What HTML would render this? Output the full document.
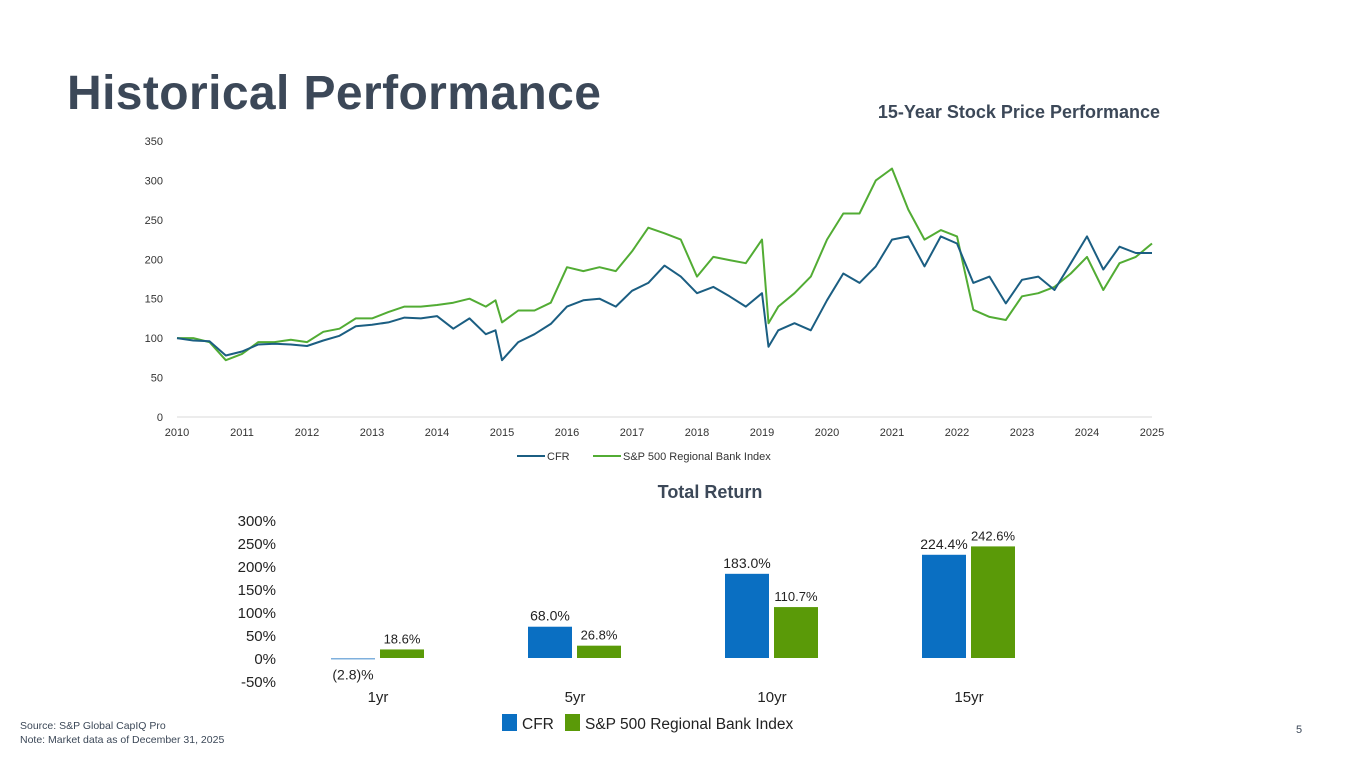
<!DOCTYPE html>
<html><head><meta charset="utf-8">
<style>
body{margin:0;width:1365px;height:768px;background:#fff;overflow:hidden;font-family:"Liberation Sans",sans-serif;position:relative}
.abs{position:absolute}
</style></head><body>
<div class="abs" style="left:67px;top:66px;font-size:48px;font-weight:bold;color:#3c4858;letter-spacing:0.4px">Historical Performance</div>
<div class="abs" style="left:840px;top:102px;width:320px;text-align:right;font-size:18px;font-weight:bold;color:#3c4858">15-Year Stock Price Performance</div>
<svg id="line" class="abs" style="left:0;top:0" width="1365" height="480"></svg>
<div class="abs" style="left:560px;top:482px;width:300px;text-align:center;font-size:18px;font-weight:bold;color:#3c4858">Total Return</div>
<svg id="bar" class="abs" style="left:0;top:480px" width="1365" height="288"></svg>
<div class="abs" style="left:20px;top:719px;font-size:10.5px;color:#3c4858;line-height:14px">Source: S&amp;P Global CapIQ Pro<br>Note: Market data as of December 31, 2025</div>
<div class="abs" style="left:1296px;top:724px;font-size:11px;color:#3c4858">5</div>
<script>
const dates=[2010,2010.25,2010.5,2010.75,2011,2011.25,2011.5,2011.75,2012,2012.25,2012.5,2012.75,2013,2013.25,2013.5,2013.75,2014,2014.25,2014.5,2014.75,2014.9,2015,2015.25,2015.5,2015.75,2016,2016.25,2016.5,2016.75,2017,2017.25,2017.5,2017.75,2018,2018.25,2018.5,2018.75,2019,2019.1,2019.25,2019.5,2019.75,2020,2020.25,2020.5,2020.75,2021,2021.25,2021.5,2021.75,2022,2022.25,2022.5,2022.75,2023,2023.25,2023.5,2023.75,2024,2024.25,2024.5,2024.75,2025];
const cfrValues=[100,97,96,78,83,92,93,92,90,97,103,115,117,120,126,125,128,112,125,105,110,72,95,105,118,140,148,150,140,160,170,192,178,157,165,153,140,157,89,110,119,110,148,182,170,191,225,229,191,229,220,170,178,144,174,178,161,195,229,187,216,208,208];
const spValues=[100,100,95,72,80,95,95,98,95,108,112,125,125,133,140,140,142,145,150,140,148,120,135,135,145,190,185,190,185,210,240,233,225,178,203,199,195,225,119,140,157,178,225,258,258,300,315,263,225,237,229,136,127,123,153,157,165,182,203,161,195,203,220];
const yTicks=[0,50,100,150,200,250,300,350];
const xTicks=[2010,2011,2012,2013,2014,2015,2016,2017,2018,2019,2020,2021,2022,2023,2024,2025];
const NS='http://www.w3.org/2000/svg';
function mk(p,t,a){const e=document.createElementNS(NS,t);for(const k in a)e.setAttribute(k,a[k]);p.appendChild(e);return e;}
const L=document.getElementById('line');
const lx=d=>177+(d-2010)*65, ly=v=>417-v*(276/350);
yTicks.forEach(v=>{const t=mk(L,'text',{x:163,y:ly(v)+4,'text-anchor':'end','font-size':11,fill:'#333'});t.textContent=v;

});
const ax=mk(L,'line',{x1:177,x2:1152,y1:417,y2:417,stroke:'#d9d9d9','stroke-width':1});


xTicks.forEach(v=>{const t=mk(L,'text',{x:lx(v),y:436,'text-anchor':'middle','font-size':11,fill:'#333'});t.textContent=v;

});
function series(vals,col,name){const p=mk(L,'path',{d:vals.map((v,i)=>(i?'L':'M')+lx(dates[i]).toFixed(1)+','+ly(v).toFixed(1)).join(''),fill:'none',stroke:col,'stroke-width':2,'stroke-linejoin':'round'});

}
series(spValues,'#52ac34','sp500-line');
series(cfrValues,'#1b5e82','cfr-line');
[[517,'#1b5e82','CFR'],[593,'#52ac34','S&P 500 Regional Bank Index']].forEach(([x,c,n])=>{
const g=mk(L,'g',{});


mk(g,'line',{x1:x,x2:x+28,y1:456,y2:456,stroke:c,'stroke-width':2});
const t=mk(g,'text',{x:x+30,y:460,'font-size':11,fill:'#333'});t.textContent=n;});

const cats=['1yr','5yr','10yr','15yr'];
const cfrRet=[-2.8,68.0,183.0,224.4];
const spRet=[18.6,26.8,110.7,242.6];
const cfrLbl=['(2.8)%','68.0%','183.0%','224.4%'];
const spLbl=['18.6%','26.8%','110.7%','242.6%'];
const bTicks=[-50,0,50,100,150,200,250,300];
const B=document.getElementById('bar');
const by=v=>178-v*(138/300), bx=i=>378+i*197;
bTicks.forEach(v=>{const t=mk(B,'text',{x:276,y:by(v)+6,'text-anchor':'end','font-size':15,fill:'#222'});t.textContent=v+'%';

});
cats.forEach((c,i)=>{
const t=mk(B,'text',{x:bx(i),y:222,'text-anchor':'middle','font-size':15,fill:'#222'});t.textContent=c;


[[cfrRet,cfrLbl,'#0a6fc2',-47,'cfr'],[spRet,spLbl,'#5a9a08',2,'sp']].forEach(([arr,lb,col,off,nm])=>{
const v=arr[i],x=bx(i)+off,y0=by(Math.max(v,0)),h=Math.max(Math.abs(by(v)-by(0)),1.5);
const r=mk(B,'rect',{x:x,y:y0,width:44,height:h,fill:v<0?'#7fb0dd':col});


const ty=v<0?by(v)+20:y0-6;
const tl=mk(B,'text',{x:x+22,y:ty,'text-anchor':'middle','font-size':nm=='cfr'?14:13,fill:'#222'});tl.textContent=lb[i];

});});
[[502,'#0a6fc2','CFR'],[565,'#5a9a08','S&P 500 Regional Bank Index']].forEach(([x,c,n])=>{
const g=mk(B,'g',{});


mk(g,'rect',{x:x,y:234,width:15,height:17,fill:c});
const t=mk(g,'text',{x:x+20,y:249,'font-size':15.5,fill:'#222'});t.textContent=n;});
</script>
</body></html>
